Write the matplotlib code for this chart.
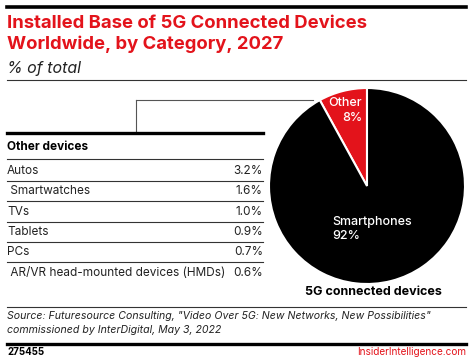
import matplotlib.pyplot as plt
from matplotlib.lines import Line2D

plt.rcParams['font.family'] = ['Inter', 'DejaVu Sans']

# data
pie_labels = ['Other', 'Smartphones']
pie_values = [8, 92]
devices = ['Autos', ' Smartwatches', 'TVs', 'Tablets', 'PCs',
           ' AR/VR head-mounted devices (HMDs)']
shares = [3.2, 1.6, 1.0, 0.9, 0.7, 0.6]

W, H = 473, 359
RED = '#e3131b'
fig = plt.figure(figsize=(W / 100, H / 100), dpi=100)


def txt(x, y, s, **kw):
    fig.text(x / W, 1 - y / H, s, **kw)


def hline(x0, x1, y, lw=0.8, color='#333333'):
    fig.add_artist(Line2D([x0 / W, x1 / W], [1 - y / H, 1 - y / H],
                          transform=fig.transFigure, lw=lw, color=color))


def vline(x, y0, y1, lw=0.8, color='#333333'):
    fig.add_artist(Line2D([x / W, x / W], [1 - y0 / H, 1 - y1 / H],
                          transform=fig.transFigure, lw=lw, color=color))


# header
hline(7, 466, 7, lw=2.6, color='black')
txt(7, 23, 'Installed Base of 5G Connected Devices', color=RED,
    fontsize=13.3, fontweight='bold', va='center')
txt(7, 44, 'Worldwide, by Category, 2027', color=RED,
    fontsize=13.3, fontweight='bold', va='center')
txt(7, 68, '% of total', fontsize=11.5, style='italic', va='center', color='#222222')
hline(7, 466, 80, lw=0.8)

# pie
cx, cy, r = 367, 186, 98
ax = fig.add_axes([(cx - r) / W, (H - cy - r) / H, 2 * r / W, 2 * r / H])
ax.pie(pie_values, colors=[RED, 'black'], startangle=90, counterclock=True,
       wedgeprops=dict(edgecolor='white', linewidth=1.5))
ax.set_xlim(-1, 1)
ax.set_ylim(-1, 1)
ax.set_aspect('auto')
ax.axis('off')

lab = dict(color='white', fontsize=9, fontweight='medium', va='center')
txt(362, 103, pie_labels[0], ha='right', **lab)
txt(362, 118, f'{pie_values[0]}%', ha='right', **lab)
txt(332, 222, pie_labels[1], ha='left', **lab)
txt(332, 236, f'{pie_values[1]}%', ha='left', **lab)
txt(373, 292, '5G connected devices', fontsize=9, fontweight='bold',
    ha='center', va='center')

# connector
hline(136, 313, 100, lw=0.8, color='#555555')
vline(136, 100, 133, lw=0.8, color='#555555')

# table
hline(7, 263, 133, lw=2.4, color='black')
txt(7, 147, 'Other devices', fontsize=8.5, fontweight='bold', va='center')
hline(7, 263, 159)
for i, (d, v) in enumerate(zip(devices, shares)):
    y = 171 + i * 20.3
    txt(7, y, d, fontsize=8.5, va='center', color='#222222')
    txt(263, y, f'{v:.1f}%', fontsize=8.5, va='center', ha='right', color='#222222')
    if i < len(devices) - 1:
        hline(7, 263, y + 10)

# footer
hline(7, 466, 307, lw=0.8)
txt(7, 316, 'Source: Futuresource Consulting, "Video Over 5G: New Networks, New Possibilities"',
    fontsize=7.6, style='italic', va='center', color='#222222')
txt(7, 330, 'commissioned by InterDigital, May 3, 2022',
    fontsize=7.6, style='italic', va='center', color='#222222')
hline(7, 466, 344, lw=2.4, color='black')
txt(7, 352, '275455', fontsize=7, fontweight='bold', va='center')
txt(466, 352, 'InsiderIntelligence.com', fontsize=7.2, color=RED, ha='right', va='center')

fig.savefig('out.png', dpi=100)
